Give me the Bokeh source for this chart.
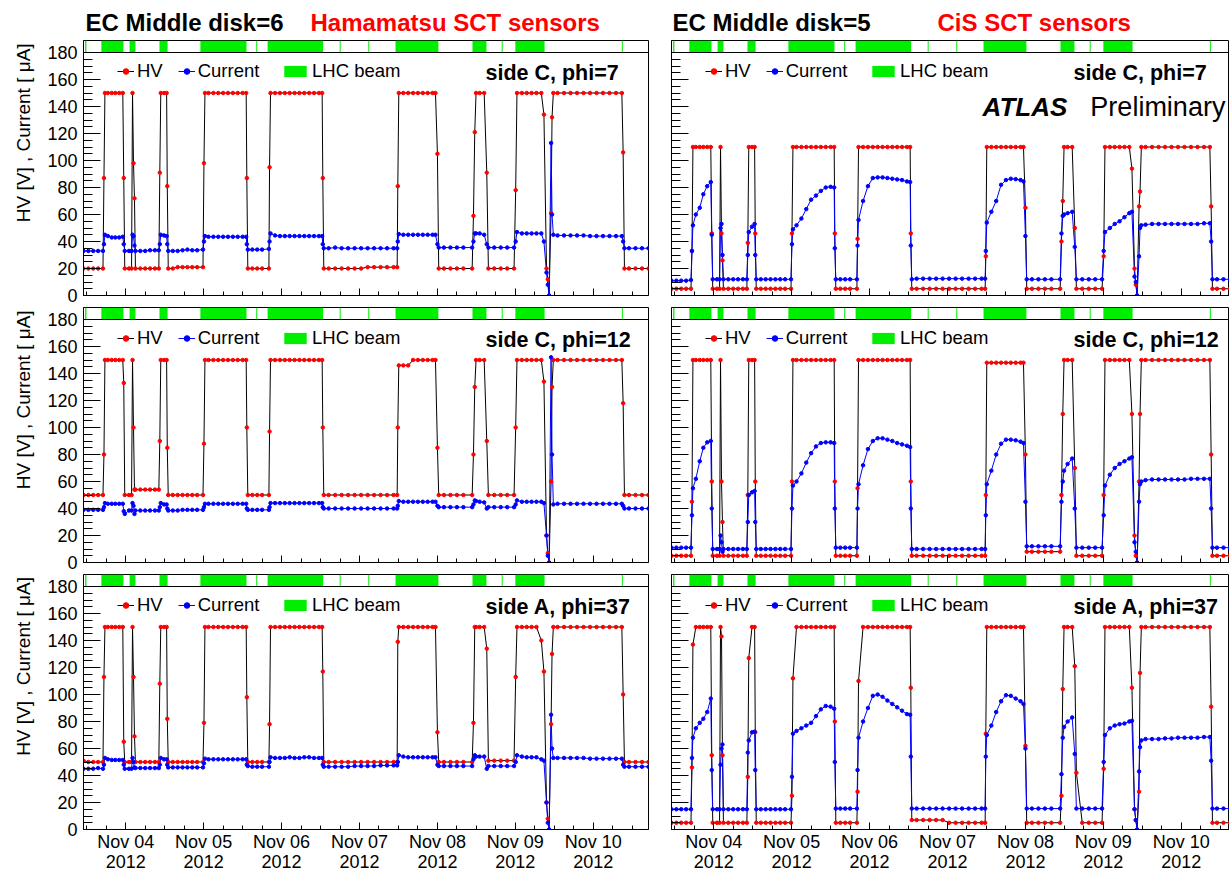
import math
from bokeh.plotting import figure
from bokeh.models import (Range1d, FixedTicker, Span, Label, Legend, LegendItem,
                          ColumnDataSource, CustomLabelingPolicy)
from bokeh.layouts import row, column
from bokeh.embed import file_html
from bokeh.resources import INLINE

# ---------------- data: hours since 2012-11-03 00:00 ----------------
hours = [
    11.0, 12.5, 14.0, 15.5, 17.0,
    17.3, 17.6,
    18.5, 19.7, 20.8, 22.0, 23.1,
    23.4, 23.7,
    25.0, 25.8,
    26.1, 26.4, 26.7, 27.0,
    28.5, 30.0, 31.5, 33.0, 34.2,
    34.5, 34.8,
    35.8, 36.6,
    36.8, 37.1,
    38.5, 40.0, 41.5, 43.0, 44.5, 46.0, 47.8,
    48.1, 48.4,
    49.5, 51.0, 52.5, 54.0, 55.5, 57.0, 58.5, 60.0, 61.1,
    61.3, 61.6,
    63.0, 64.5, 66.0, 68.1,
    68.3, 68.6,
    70.0, 71.5, 73.0, 74.5, 76.0, 77.5, 79.0, 80.5, 82.0, 83.5, 84.5,
    84.7, 85.0,
    86.5, 88.5, 90.5, 92.5, 94.5, 96.5, 98.5, 100.5, 102.5, 104.5, 106.5, 107.6,
    107.8, 108.1,
    109.5, 111.0, 112.5, 114.0, 115.5, 117.0, 118.5, 119.4,
    120.0, 120.4,
    122.0, 124.0, 126.0, 128.0, 130.7,
    131.1, 131.5, 131.9,
    133.0, 134.4,
    135.2, 135.7,
    137.5, 139.5, 141.5, 143.6,
    144.1, 144.5,
    146.0, 147.5, 149.0, 150.5, 152.0, 152.8,
    153.6, 154.0, 154.4,
    155.0, 155.3, 155.7,
    157.0, 159.0, 161.0, 163.0, 165.0, 167.0, 169.0, 171.0, 173.0, 175.0, 176.8,
    177.2, 177.6,
    179.0, 181.0, 183.0, 185.0,
]

beam_start = [11.5, 16.5, 25.2, 34.4, 47.0, 64.2, 67.7, 89.9, 98.7, 107.1, 130.8, 139.8, 144.0, 176.8]
beam_end = [11.9, 23.3, 27.0, 36.9, 61.2, 64.5, 84.8, 90.2, 99.0, 120.3, 135.1, 140.1, 153.0, 177.1]

# ---- EC Middle disk=6 (Hamamatsu) ----
l1_hv = [
    20, 20, 20, 20, 20,
    87, 150,
    150, 150, 150, 150, 150,
    87, 20,
    20, 20,
    150, 98, 72, 20,
    20, 20, 20, 20, 20,
    91, 150,
    150, 150,
    81, 20,
    20, 21, 21, 21, 21, 21, 21,
    98, 150,
    150, 150, 150, 150, 150, 150, 150, 150, 150,
    87, 20,
    20, 20, 20, 20,
    95, 150,
    150, 150, 150, 150, 150, 150, 150, 150, 150, 150, 150,
    87, 20,
    20, 20, 20, 20, 20, 20, 21, 21, 21, 21, 21, 21,
    81, 150,
    150, 150, 150, 150, 150, 150, 150, 150,
    105, 20,
    20, 20, 20, 20, 20,
    59, 121, 150,
    150, 150,
    91, 20,
    20, 20, 20, 20,
    78, 150,
    150, 150, 150, 150, 150, 134,
    20, 12, 0,
    61, 132, 150,
    150, 150, 150, 150, 150, 150, 150, 150, 150, 150, 150,
    106, 20,
    20, 20, 20, 20,
]
l1_cur = [
    33, 33, 33, 33, 33,
    38, 45,
    44, 43, 43, 43, 43.5,
    38, 33,
    33, 33,
    45, 44, 37, 33,
    33, 33, 33.5, 33.5, 33.5,
    38, 45,
    44.5, 44,
    38, 33,
    33, 33, 33.5, 34, 33.5, 33.5, 34,
    40, 44,
    43.5, 43.5, 43.5, 43.5, 43.5, 43.5, 43.5, 43.5, 43.5,
    38, 34,
    34, 34, 34, 34.5,
    40, 46,
    44.5, 44, 44, 44, 44, 44, 44, 44, 44, 44, 44,
    38, 35,
    35, 35.5, 35, 35, 35, 35, 35, 35, 35, 35, 35, 35,
    40, 45.5,
    45, 45, 45, 45, 45, 45, 45, 45,
    38, 35.5,
    35.5, 35.5, 35.5, 35.5, 35.5,
    40, 46, 46,
    46, 45,
    38, 35.5,
    35.5, 35.5, 35.5, 35.5,
    40, 47,
    46, 46, 46, 46, 46, 40,
    17, 8, 0,
    113, 60, 45,
    44.5, 44.5, 44.5, 44.5, 44.5, 44, 44, 44, 44, 44, 44,
    40, 35,
    35, 35, 35, 35,
]
l2_hv = [
    50, 50, 50, 50, 50,
    80, 150,
    150, 150, 150, 150, 150,
    133, 50,
    50, 50,
    150, 100, 54, 54,
    54, 54, 54, 54, 54,
    90, 150,
    150, 150,
    85, 50,
    50, 50, 50, 50, 50, 50, 50,
    88, 150,
    150, 150, 150, 150, 150, 150, 150, 150, 150,
    100, 50,
    50, 50, 50, 50,
    97, 150,
    150, 150, 150, 150, 150, 150, 150, 150, 150, 150, 150,
    100, 50,
    50, 50, 50, 50, 50, 50, 50, 50, 50, 50, 50, 50,
    100, 146,
    146, 146, 150, 150, 150, 150, 150, 150,
    85, 50,
    50, 50, 50, 50, 50,
    80, 130, 150,
    150, 150,
    90, 50,
    50, 50, 50, 50,
    100, 150,
    150, 150, 150, 150, 150, 134,
    20, 7, 0,
    60, 130, 150,
    150, 150, 150, 150, 150, 150, 150, 150, 150, 150, 150,
    118, 50,
    50, 50, 50, 50,
]
l2_cur = [
    39, 39, 39, 39, 39,
    41, 44,
    43.5, 43.5, 43.5, 43.5, 43.5,
    38, 36,
    38.5, 38.5,
    44, 42, 36, 38.5,
    38.5, 38.5, 38.5, 38.5, 38.5,
    41, 44,
    43, 43,
    40, 38.5,
    38.5, 38.5, 39, 39, 39, 39, 39,
    41, 43.5,
    43.5, 43.5, 43.5, 43.5, 43.5, 43.5, 43.5, 43.5, 43.5,
    40, 39,
    39, 39, 39, 39,
    41, 44,
    44, 44, 44, 44, 44, 44, 44, 44, 44, 44, 44,
    41, 40,
    40, 40, 40, 40, 40, 40, 40, 40, 40, 40, 40, 40,
    42, 45.5,
    45, 45, 45, 45, 45, 45, 45, 45,
    42, 41,
    41, 41, 41, 41, 41,
    43, 46, 45.5,
    45, 44.5,
    40, 41,
    41, 41, 41, 41,
    43, 46,
    45, 45, 45, 45, 45, 44,
    20, 5, 0,
    152, 80, 43,
    43.5, 43.5, 43.5, 43.5, 43.5, 43.5, 43.5, 43.5, 43.5, 43.5, 43.5,
    42, 40,
    40, 40, 40, 40,
]
l3_hv = [
    51, 50, 50, 50, 50,
    113, 150,
    150, 150, 150, 150, 150,
    65, 50,
    50, 50,
    150, 113, 69, 50,
    50, 50, 50, 50, 50,
    108, 150,
    150, 150,
    82, 50,
    50, 50, 50, 50, 50, 50, 50,
    79, 150,
    150, 150, 150, 150, 150, 150, 150, 150, 150,
    98, 50,
    50, 50, 50, 50,
    78, 150,
    150, 150, 150, 150, 150, 150, 150, 150, 150, 150, 150,
    117, 50,
    50, 50, 50, 50, 50, 50, 50, 50, 50, 50, 50, 50,
    139, 150,
    150, 150, 150, 150, 150, 150, 150, 150,
    72, 50,
    50, 50, 50, 50, 50,
    79, 150, 150,
    150, 150,
    134, 51,
    51, 51, 51, 51,
    113, 150,
    150, 150, 150, 150, 140, 117,
    20, 8, 0,
    78, 130, 150,
    150, 150, 150, 150, 150, 150, 150, 150, 150, 150, 150,
    100, 50,
    50, 50, 50, 50,
]
l3_cur = [
    45, 45, 45, 45.5, 45,
    48, 53,
    52, 51.5, 51.5, 51.5, 51.5,
    48, 45,
    45, 45,
    53, 50, 46, 45.5,
    45.5, 45.5, 45.5, 45.5, 45.5,
    48, 53,
    52, 52,
    48, 46,
    46, 46, 46, 46, 46, 46, 46,
    49, 52.5,
    52, 52, 52, 52, 52, 52, 52, 52, 52,
    48, 47,
    46.5, 46.5, 46.5, 46.5,
    50, 53.5,
    53, 53, 53, 53.5, 53, 53, 53.5, 53.5, 53, 53, 53,
    48, 46.5,
    46.5, 46.5, 46.5, 46.5, 47, 47, 47, 47, 47.5, 47.5, 47.5, 47.5,
    50, 55,
    54, 53.5, 53.5, 53.5, 53.5, 53.5, 53.5, 53.5,
    48, 47,
    47, 47, 47, 47, 47,
    52, 55, 54,
    54, 54,
    45, 47,
    47, 47, 47, 47,
    50, 55,
    54, 53.5, 53.5, 53.5, 52, 51,
    20, 5, 0,
    85, 60, 53,
    53, 53, 53, 53, 53, 52.5, 52.5, 52.5, 52.5, 52.5, 52.5,
    48, 46.5,
    46.5, 46.5, 46.5, 46.5,
]

# ---- EC Middle disk=5 (CiS) ----
r1_hv = [
    5, 5, 5, 5, 5,
    33, 110,
    110, 110, 110, 110, 110,
    46, 5,
    5, 5,
    110, 46, 26, 5,
    5, 5, 5, 5, 5,
    39, 110,
    110, 110,
    46, 5,
    5, 5, 5, 5, 5, 5, 5,
    46, 110,
    110, 110, 110, 110, 110, 110, 110, 110, 110,
    46, 5,
    5, 5, 5, 5,
    42, 110,
    110, 110, 110, 110, 110, 110, 110, 110, 110, 110, 110,
    46, 5,
    5, 5, 5, 5, 5, 5, 5, 5, 5, 5, 5, 5,
    29, 110,
    110, 110, 110, 110, 110, 110, 110, 110,
    65, 5,
    5, 5, 5, 5, 5,
    40, 70, 110,
    110, 110,
    50, 5,
    5, 5, 5, 5,
    29, 110,
    110, 110, 110, 110, 110, 94,
    20, 8, 0,
    66, 77, 110,
    110, 110, 110, 110, 110, 110, 110, 110, 110, 110, 110,
    66, 5,
    5, 5, 5, 5,
]
r1_cur = [
    11, 11, 11, 11, 11.5,
    33, 52,
    60, 65, 75, 81, 84,
    45, 12,
    12, 12,
    50, 53, 30, 12,
    12, 12, 12, 12, 12,
    30, 47,
    51, 53,
    30, 12,
    12, 12, 12, 12, 12, 12, 12,
    38, 49,
    52, 57, 64, 71, 74, 77.5, 80, 80.5, 80,
    35, 12,
    12, 12, 12, 12,
    37, 56,
    70, 81, 87, 87.5, 87.5, 87, 86.5, 86, 85.5, 84.5, 84,
    37, 12,
    12.5, 12.5, 12.5, 12.5, 12.5, 12.5, 12.5, 12.5, 12.5, 12.5, 12.5, 12.5,
    33, 54,
    62, 70, 82, 85.5, 86.5, 86.2, 85.5, 84.5,
    44, 12,
    12, 12, 12, 12, 12,
    46, 59, 60,
    61, 62,
    36, 12,
    12, 12, 12, 12,
    33, 47,
    50, 53, 55, 58, 61, 62,
    14, 10, 0,
    29, 50, 52,
    52.5, 53, 53, 53, 53, 53, 53, 53, 53, 53.5, 53.5,
    40, 12,
    12, 12, 12, 12,
]
r2_hv = [
    5, 5, 5, 5, 5,
    45, 150,
    150, 150, 150, 150, 150,
    60, 5,
    5, 5,
    150, 60, 30, 5,
    5, 5, 5, 5, 5,
    50, 150,
    150, 150,
    60, 5,
    5, 5, 5, 5, 5, 5, 5,
    60, 150,
    150, 150, 150, 150, 150, 150, 150, 150, 150,
    60, 5,
    5, 5, 5, 5,
    55, 150,
    150, 150, 150, 150, 150, 150, 150, 150, 150, 150, 150,
    60, 5,
    5, 5, 5, 5, 5, 5, 5, 5, 5, 5, 5, 5,
    50, 148,
    148, 148, 148, 148, 148, 148, 148, 148,
    80, 8,
    8, 8, 8, 8, 8,
    50, 110, 150,
    150, 150,
    70, 5,
    5, 5, 5, 5,
    50, 150,
    150, 150, 150, 150, 150, 110,
    20, 5, 0,
    60, 110, 150,
    150, 150, 150, 150, 150, 150, 150, 150, 150, 150, 150,
    80, 5,
    5, 5, 5, 5,
]
r2_cur = [
    11, 11, 11, 11, 11,
    35, 55,
    62, 75, 85, 89, 90,
    40, 10,
    10, 10,
    20, 15, 8, 10,
    10, 10, 10, 10, 10,
    30, 50,
    52, 53,
    30, 10,
    10, 10, 10, 10, 10, 10, 10,
    40, 57,
    60, 66, 74, 81, 86, 88.5, 89, 89, 88.5,
    40, 11,
    11, 11, 11, 11,
    40, 58,
    72, 84, 90, 92, 92, 91, 90, 88.5, 87.5, 86.5, 85.5,
    40, 10,
    10, 10, 10, 10, 10, 10, 10, 10, 10, 10, 10, 10,
    35, 58,
    68, 80, 88, 91, 91, 90.5, 89.5, 88.5,
    45, 12,
    12, 12, 12, 12, 12,
    45, 60, 68,
    73, 77,
    40, 11,
    11, 11, 11, 11,
    35, 57,
    65, 70, 73, 75, 77, 78,
    15, 8, 0,
    45, 58, 60,
    61, 61.5, 61.5, 61.5, 61.5, 61.5, 61.5, 62, 62, 62, 62,
    40, 11,
    11, 11, 11, 11,
]
r3_hv = [
    5, 5, 5, 5, 5,
    46, 137,
    150, 150, 150, 150, 150,
    55, 5,
    5, 5,
    150, 143, 55, 5,
    5, 5, 5, 5, 5,
    39, 127,
    150, 150,
    72, 5,
    5, 5, 5, 5, 5, 5, 5,
    25, 112,
    150, 150, 150, 150, 150, 150, 150, 150, 150,
    80, 5,
    5, 5, 5, 5,
    28, 110,
    150, 150, 150, 150, 150, 150, 150, 150, 150, 150, 150,
    105, 7,
    7, 7, 7, 7, 7, 5, 5, 5, 5, 5, 5, 5,
    71, 150,
    150, 150, 150, 150, 150, 150, 150, 150,
    62, 5,
    5, 5, 5, 5, 5,
    25, 104, 150,
    150, 150,
    121, 42,
    5, 5, 5, 5,
    45, 150,
    150, 150, 150, 150, 150, 105,
    15, 7, 0,
    28, 116, 150,
    150, 150, 150, 150, 150, 150, 150, 150, 150, 150, 150,
    91, 5,
    5, 5, 5, 5,
]
r3_cur = [
    15, 15, 15, 15, 15,
    53, 68,
    75, 79, 82, 87, 97,
    44, 15,
    15, 15,
    48, 60, 63, 15,
    15, 15, 15, 15, 15,
    57, 66,
    72, 72.5,
    44, 15,
    15, 15, 15, 15, 15, 15, 15,
    39, 71,
    73, 75, 77, 79, 84, 89, 91.5, 91, 89.5,
    50, 15.5,
    15.5, 15.5, 15.5, 15.5,
    44, 68,
    80, 90, 99, 100, 98.3, 95.5, 93, 90.5, 88, 85.5, 85,
    54, 15.5,
    15.5, 15.5, 15.5, 15.5, 15.5, 15.5, 15.5, 15.5, 15.5, 15.5, 15.5, 15.5,
    54, 70,
    77, 87, 95, 99.5, 99, 97, 95, 93,
    60, 15.5,
    15.5, 15.5, 15.5, 15.5, 15.5,
    41, 68, 76,
    80, 83,
    56, 15.5,
    15.5, 15.5, 15.5, 15.5,
    50, 70,
    75, 77, 78, 78.5, 80, 80.5,
    15, 7, 0,
    43, 61, 66,
    67, 67, 67, 67.5, 67.5, 68, 68, 68, 68, 68.5, 68.5,
    51, 15.5,
    15.5, 15.5, 15.5, 15.5,
]

x_tick_values = [24, 48, 72, 96, 120, 144, 168]
x_tick_labels = ["Nov 04\n2012", "Nov 05\n2012", "Nov 06\n2012", "Nov 07\n2012",
                 "Nov 08\n2012", "Nov 09\n2012", "Nov 10\n2012"]
y_tick_values = [0, 20, 40, 60, 80, 100, 120, 140, 160, 180]

# ---------------- styling ----------------
FONT = "Liberation Sans"
GREEN = "#00ee00"
PX_PER_UNIT = 1.35
FRAME_H = 255
Y_TOP = FRAME_H / PX_PER_UNIT
PX_PER_H = 3.247
X_LEFT = (11.0, 11.0 + 565 / PX_PER_H)
X_RIGHT = (11.0, 11.0 + 558 / PX_PER_H)
x_minor = [h for h in range(12, 186, 6) if h % 24]
y_minor = [v for v in range(0, 181, 5) if v % 20]
HIDE = "for (const i of indices) indices.unset(i)"
BORDERS = [(1, 11), (1, 11), (1, 42)]   # (top, bottom) per row
LABEL_W = 40


def hide_labels(ax):
    ax.major_label_text_font_size = "1px"
    ax.major_label_standoff = 0
    ax.major_label_policy = CustomLabelingPolicy(code=HIDE)


def panel(col, r, hv, cur, side_text):
    left = col == 0
    top, bottom = BORDERS[r]
    p = figure(x_range=Range1d(*(X_LEFT if left else X_RIGHT)), y_range=Range1d(0, Y_TOP),
               frame_width=565 if left else 558, frame_height=FRAME_H,
               min_border_left=83 - LABEL_W if left else 12, min_border_right=11 if left else 0,
               min_border_top=top, min_border_bottom=bottom,
               output_backend="svg", toolbar_location=None, tools="")
    p.background_fill_color = "white"
    p.border_fill_color = "white"
    p.outline_line_color = "black"
    p.outline_line_width = 1
    p.outline_line_alpha = 1
    p.xgrid.visible = False
    p.ygrid.visible = False

    xa = p.xaxis[0]
    xa.ticker = FixedTicker(ticks=x_tick_values, minor_ticks=x_minor)
    xa.major_tick_in, xa.major_tick_out = 7, 0
    xa.minor_tick_in, xa.minor_tick_out = 4, 0
    xa.axis_line_color = "black"
    xa.major_tick_line_color = "black"
    xa.minor_tick_line_color = "black"
    xa.major_label_text_font = FONT
    xa.major_label_text_color = "black"
    if r < 2:
        hide_labels(xa)
    else:
        xa.major_label_overrides = dict(zip(x_tick_values, x_tick_labels))
        xa.major_label_text_font_size = "18px"
        xa.major_label_standoff = 2
        xa.major_label_text_line_height = 1.0

    ya = p.yaxis[0]
    ya.ticker = FixedTicker(ticks=y_tick_values, minor_ticks=y_minor)
    ya.major_tick_in, ya.major_tick_out = 17, 0
    ya.minor_tick_in, ya.minor_tick_out = 9, 0
    ya.axis_line_color = "black"
    ya.major_tick_line_color = "black"
    ya.minor_tick_line_color = "black"
    ya.major_label_text_font = FONT
    ya.major_label_text_color = "black"
    if left:
        ya.major_label_text_font_size = "18px"
        ya.major_label_standoff = 6
    else:
        hide_labels(ya)

    src = ColumnDataSource(dict(t=hours, hv=hv, cur=cur))
    beam = p.quad(left=beam_start, right=beam_end, bottom=180, top=Y_TOP,
                  fill_color=GREEN, line_color=None)
    p.add_layout(Span(location=180, dimension="width", line_color="black", line_width=1))
    hv_line = p.line("t", "hv", source=src, line_color="black", line_width=1)
    cur_line = p.line("t", "cur", source=src, line_color="blue", line_width=1)
    hv_pts = p.scatter("t", "hv", source=src, size=3.5, fill_color="red", line_color="red")
    cur_pts = p.scatter("t", "cur", source=src, size=3.5, fill_color="blue", line_color="blue")

    common = dict(orientation="horizontal", padding=0, margin=0, border_line_alpha=0,
                  background_fill_alpha=0, label_text_font=FONT, label_text_font_size="18.5px",
                  label_text_color="black", label_standoff=3, spacing=15,
                  label_height=14)
    leg_y = FRAME_H - 42
    leg1 = Legend(items=[LegendItem(label="HV", renderers=[hv_line, hv_pts]),
                         LegendItem(label="Current", renderers=[cur_line, cur_pts])],
                  location=(34, leg_y), glyph_width=17, glyph_height=14, **common)
    leg2 = Legend(items=[LegendItem(label="LHC beam", renderers=[beam])],
                  location=(198, leg_y), glyph_width=28, glyph_height=14, **common)
    p.add_layout(leg1)
    p.add_layout(leg2)

    p.add_layout(Label(x=134.8, y=165, text=side_text, text_font=FONT, text_font_style="bold",
                       text_font_size="21.5px", text_align="left", text_baseline="middle",
                       text_color="black"))
    return p


def ylabel_strip(r):
    top, bottom = BORDERS[r]
    h = top + FRAME_H + bottom
    s = figure(width=LABEL_W, height=h, x_range=Range1d(0, LABEL_W), y_range=Range1d(0, h),
               x_axis_location=None, y_axis_location=None, min_border=0,
               output_backend="svg", toolbar_location=None, tools="")
    s.outline_line_color = None
    s.xgrid.visible = False
    s.ygrid.visible = False
    s.add_layout(Label(x=23, y=h - top - 2, angle=math.pi / 2,
                       text="HV [V] , Current [ μA]", text_font=FONT,
                       text_font_size="19px", text_align="right", text_baseline="middle",
                       text_color="black"))
    return s


L1 = panel(0, 0, l1_hv, l1_cur, "side C, phi=7")
L2 = panel(0, 1, l2_hv, l2_cur, "side C, phi=12")
L3 = panel(0, 2, l3_hv, l3_cur, "side A, phi=37")
R1 = panel(1, 0, r1_hv, r1_cur, "side C, phi=7")
R2 = panel(1, 1, r2_hv, r2_cur, "side C, phi=12")
R3 = panel(1, 2, r3_hv, r3_cur, "side A, phi=37")

R1.add_layout(Label(x=106.8, y=140, text="ATLAS", text_font=FONT, text_font_style="bold italic",
                    text_font_size="26px", text_align="left", text_baseline="middle",
                    text_color="black"))
R1.add_layout(Label(x=140.0, y=140, text="Preliminary", text_font=FONT,
                    text_font_size="27px", text_align="left", text_baseline="middle",
                    text_color="black"))

# title strip above the panels (pixel coordinates)
head = figure(width=1229, height=39, x_range=Range1d(0, 1229), y_range=Range1d(0, 39),
              x_axis_location=None, y_axis_location=None, min_border=0,
              output_backend="svg", toolbar_location=None, tools="")
head.outline_line_color = None
head.xgrid.visible = False
head.ygrid.visible = False
title_kw = dict(y=17, text_font=FONT, text_font_style="bold", text_font_size="24px",
                text_align="left", text_baseline="middle")
head.add_layout(Label(x=85, text="EC Middle disk=6", text_color="black", **title_kw))
head.add_layout(Label(x=310, text="Hamamatsu SCT sensors", text_color="red", **title_kw))
head.add_layout(Label(x=672, text="EC Middle disk=5", text_color="black", **title_kw))
head.add_layout(Label(x=937, text="CiS SCT sensors", text_color="red", **title_kw))

left_col = column(row(ylabel_strip(0), L1), row(ylabel_strip(1), L2), row(ylabel_strip(2), L3))
right_col = column(R1, R2, R3)
layout = column(head, row(left_col, right_col))
open("out.html", "w").write(file_html(layout, INLINE, title="EC Middle HV and current"))
